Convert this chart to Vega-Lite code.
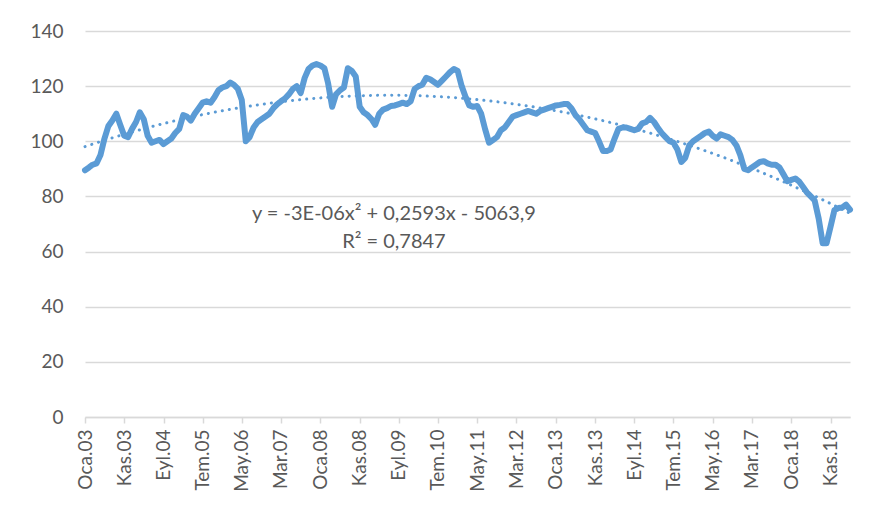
{
  "$schema": "https://vega.github.io/schema/vega-lite/v6.json",
  "width": 765,
  "height": 386,
  "autosize": "none",
  "padding": {"left": 85, "top": 31, "right": 19, "bottom": 106},
  "background": "white",
  "config": {
    "view": {"stroke": null},
    "font": "Lato",
    "axis": {"labelFont": "Lato", "labelColor": "#595959", "labelFontSize": 19}
  },
  "data": {
    "values": [
      {"d":"2003-01","v":89.5},{"d":"2003-02","v":90.5},{"d":"2003-03","v":91.5},{"d":"2003-04","v":92},{"d":"2003-05","v":95},{"d":"2003-06","v":101},{"d":"2003-07","v":105.5},{"d":"2003-08","v":107.5},{"d":"2003-09","v":110},{"d":"2003-10","v":106},{"d":"2003-11","v":102},{"d":"2003-12","v":101.5},
      {"d":"2004-01","v":104.5},{"d":"2004-02","v":107},{"d":"2004-03","v":110.5},{"d":"2004-04","v":108},{"d":"2004-05","v":102},{"d":"2004-06","v":99.5},{"d":"2004-07","v":100},{"d":"2004-08","v":100.5},{"d":"2004-09","v":99},{"d":"2004-10","v":100},{"d":"2004-11","v":101},{"d":"2004-12","v":103},
      {"d":"2005-01","v":104.5},{"d":"2005-02","v":109.5},{"d":"2005-03","v":109},{"d":"2005-04","v":107.5},{"d":"2005-05","v":110},{"d":"2005-06","v":112},{"d":"2005-07","v":114},{"d":"2005-08","v":114.5},{"d":"2005-09","v":114},{"d":"2005-10","v":116},{"d":"2005-11","v":118.5},{"d":"2005-12","v":119.5},
      {"d":"2006-01","v":120},{"d":"2006-02","v":121.3},{"d":"2006-03","v":120.5},{"d":"2006-04","v":119},{"d":"2006-05","v":115},{"d":"2006-06","v":100},{"d":"2006-07","v":101.5},{"d":"2006-08","v":105},{"d":"2006-09","v":107},{"d":"2006-10","v":108},{"d":"2006-11","v":109},{"d":"2006-12","v":110},
      {"d":"2007-01","v":112},{"d":"2007-02","v":113.5},{"d":"2007-03","v":114.5},{"d":"2007-04","v":115.5},{"d":"2007-05","v":117},{"d":"2007-06","v":119},{"d":"2007-07","v":120},{"d":"2007-08","v":117.5},{"d":"2007-09","v":123},{"d":"2007-10","v":126.2},{"d":"2007-11","v":127.5},{"d":"2007-12","v":128},
      {"d":"2008-01","v":127.5},{"d":"2008-02","v":126.5},{"d":"2008-03","v":121},{"d":"2008-04","v":112.5},{"d":"2008-05","v":117},{"d":"2008-06","v":118.5},{"d":"2008-07","v":119.5},{"d":"2008-08","v":126.5},{"d":"2008-09","v":125.5},{"d":"2008-10","v":123.5},{"d":"2008-11","v":112.5},{"d":"2008-12","v":110.5},
      {"d":"2009-01","v":109.5},{"d":"2009-02","v":108},{"d":"2009-03","v":106},{"d":"2009-04","v":110},{"d":"2009-05","v":111.5},{"d":"2009-06","v":112},{"d":"2009-07","v":112.8},{"d":"2009-08","v":113},{"d":"2009-09","v":113.5},{"d":"2009-10","v":114},{"d":"2009-11","v":113.5},{"d":"2009-12","v":114.5},
      {"d":"2010-01","v":119},{"d":"2010-02","v":120},{"d":"2010-03","v":120.5},{"d":"2010-04","v":123},{"d":"2010-05","v":122.5},{"d":"2010-06","v":121.5},{"d":"2010-07","v":120.5},{"d":"2010-08","v":122},{"d":"2010-09","v":123.5},{"d":"2010-10","v":125},{"d":"2010-11","v":126.2},{"d":"2010-12","v":125.5},
      {"d":"2011-01","v":120},{"d":"2011-02","v":116},{"d":"2011-03","v":113},{"d":"2011-04","v":112.5},{"d":"2011-05","v":112.8},{"d":"2011-06","v":110},{"d":"2011-07","v":104.5},{"d":"2011-08","v":99.5},{"d":"2011-09","v":100.5},{"d":"2011-10","v":101.5},{"d":"2011-11","v":104},{"d":"2011-12","v":105},
      {"d":"2012-01","v":107},{"d":"2012-02","v":109},{"d":"2012-03","v":109.5},{"d":"2012-04","v":110},{"d":"2012-05","v":110.5},{"d":"2012-06","v":111},{"d":"2012-07","v":110.5},{"d":"2012-08","v":110},{"d":"2012-09","v":111},{"d":"2012-10","v":111.5},{"d":"2012-11","v":112},{"d":"2012-12","v":112.5},
      {"d":"2013-01","v":113},{"d":"2013-02","v":113.2},{"d":"2013-03","v":113.5},{"d":"2013-04","v":113.5},{"d":"2013-05","v":112},{"d":"2013-06","v":109.5},{"d":"2013-07","v":108},{"d":"2013-08","v":106},{"d":"2013-09","v":104},{"d":"2013-10","v":103.5},{"d":"2013-11","v":103},{"d":"2013-12","v":100},
      {"d":"2014-01","v":96.5},{"d":"2014-02","v":96.5},{"d":"2014-03","v":97},{"d":"2014-04","v":101},{"d":"2014-05","v":104.5},{"d":"2014-06","v":105},{"d":"2014-07","v":105},{"d":"2014-08","v":104.5},{"d":"2014-09","v":104},{"d":"2014-10","v":104.5},{"d":"2014-11","v":106.5},{"d":"2014-12","v":107},
      {"d":"2015-01","v":108.5},{"d":"2015-02","v":107},{"d":"2015-03","v":105},{"d":"2015-04","v":103},{"d":"2015-05","v":101.5},{"d":"2015-06","v":100},{"d":"2015-07","v":99.5},{"d":"2015-08","v":97},{"d":"2015-09","v":92.5},{"d":"2015-10","v":94},{"d":"2015-11","v":98.5},{"d":"2015-12","v":100},
      {"d":"2016-01","v":101},{"d":"2016-02","v":102},{"d":"2016-03","v":103},{"d":"2016-04","v":103.5},{"d":"2016-05","v":102},{"d":"2016-06","v":101},{"d":"2016-07","v":102.5},{"d":"2016-08","v":102},{"d":"2016-09","v":101.5},{"d":"2016-10","v":100.5},{"d":"2016-11","v":98.5},{"d":"2016-12","v":95},
      {"d":"2017-01","v":90},{"d":"2017-02","v":89.5},{"d":"2017-03","v":90.5},{"d":"2017-04","v":91.5},{"d":"2017-05","v":92.5},{"d":"2017-06","v":92.8},{"d":"2017-07","v":92},{"d":"2017-08","v":91.5},{"d":"2017-09","v":91.5},{"d":"2017-10","v":90.5},{"d":"2017-11","v":88},{"d":"2017-12","v":85.5},
      {"d":"2018-01","v":86},{"d":"2018-02","v":86.5},{"d":"2018-03","v":85.5},{"d":"2018-04","v":83.5},{"d":"2018-05","v":81.5},{"d":"2018-06","v":80},{"d":"2018-07","v":78.5},{"d":"2018-08","v":72},{"d":"2018-09","v":63},{"d":"2018-10","v":63},{"d":"2018-11","v":69},{"d":"2018-12","v":75},
      {"d":"2019-01","v":75.8},{"d":"2019-02","v":76},{"d":"2019-03","v":77},{"d":"2019-04","v":75.2}
    ]
  },
  "encoding": {
    "x": {
      "field": "d",
      "type": "temporal",
      "title": null,
      "scale": {"type": "utc", "domain": [{"year": 2003, "month": 1, "date": 1, "utc": true}, {"year": 2019, "month": 4, "date": 1, "utc": true}]},
      "axis": {
        "values": [
          {"year": 2003, "month": 1, "utc": true}, {"year": 2003, "month": 11, "utc": true},
          {"year": 2004, "month": 9, "utc": true}, {"year": 2005, "month": 7, "utc": true},
          {"year": 2006, "month": 5, "utc": true}, {"year": 2007, "month": 3, "utc": true},
          {"year": 2008, "month": 1, "utc": true}, {"year": 2008, "month": 11, "utc": true},
          {"year": 2009, "month": 9, "utc": true}, {"year": 2010, "month": 7, "utc": true},
          {"year": 2011, "month": 5, "utc": true}, {"year": 2012, "month": 3, "utc": true},
          {"year": 2013, "month": 1, "utc": true}, {"year": 2013, "month": 11, "utc": true},
          {"year": 2014, "month": 9, "utc": true}, {"year": 2015, "month": 7, "utc": true},
          {"year": 2016, "month": 5, "utc": true}, {"year": 2017, "month": 3, "utc": true},
          {"year": 2018, "month": 1, "utc": true}, {"year": 2018, "month": 11, "utc": true}
        ],
        "labelExpr": "['Oca','Şub','Mar','Nis','May','Haz','Tem','Ağu','Eyl','Eki','Kas','Ara'][utcmonth(datum.value)] + '.' + utcFormat(datum.value, '%y')",
        "labelAngle": -90,
        "labelAlign": "right",
        "labelBaseline": "middle",
        "labelPadding": 6,
        "labelOverlap": false,
        "labelFlush": false,
        "domainColor": "#D9D9D9",
        "domainWidth": 1.5,
        "tickColor": "#D9D9D9",
        "tickWidth": 1.5,
        "tickSize": 6,
        "grid": false
      }
    },
    "y": {
      "field": "v",
      "type": "quantitative",
      "title": null,
      "scale": {"domain": [0, 140], "nice": false, "zero": true},
      "axis": {
        "values": [0, 20, 40, 60, 80, 100, 120, 140],
        "domain": false,
        "ticks": false,
        "labelPadding": 22,
        "gridColor": "#D9D9D9",
        "gridWidth": 1.5
      }
    }
  },
  "layer": [
    {
      "mark": {"type": "line", "color": "#5B9BD5", "strokeWidth": 6, "strokeJoin": "round", "strokeCap": "round"}
    },
    {
      "transform": [{"regression": "v", "on": "d", "method": "poly", "order": 2}],
      "mark": {"type": "line", "color": "#5B9BD5", "strokeWidth": 3, "strokeDash": [0.1, 7], "strokeCap": "round"}
    },
    {
      "transform": [{"filter": "utcyear(datum.d) == 2009 && utcmonth(datum.d) == 6"}],
      "mark": {"type": "text", "font": "Lato", "fontSize": 20, "color": "#595959", "align": "center", "baseline": "middle", "dx": 3},
      "encoding": {
        "y": {"datum": 73.5},
        "text": {"value": "y = -3E-06x² + 0,2593x - 5063,9"}
      }
    },
    {
      "transform": [{"filter": "utcyear(datum.d) == 2009 && utcmonth(datum.d) == 6"}],
      "mark": {"type": "text", "font": "Lato", "fontSize": 20, "color": "#595959", "align": "center", "baseline": "middle", "dx": 3},
      "encoding": {
        "y": {"datum": 63.5},
        "text": {"value": "R² = 0,7847"}
      }
    }
  ]
}
